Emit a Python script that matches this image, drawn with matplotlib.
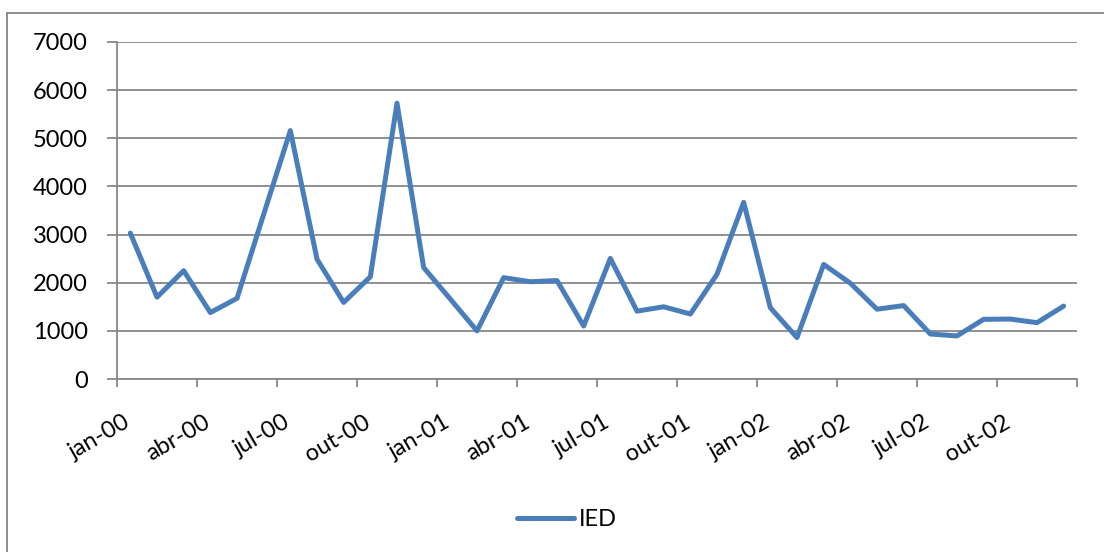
import matplotlib
matplotlib.use("Agg")
import matplotlib.pyplot as plt
from matplotlib.lines import Line2D
from matplotlib.transforms import ScaledTranslation

plt.rcParams['font.family'] = ['Lato', 'DejaVu Sans']

months = ["jan-00", "fev-00", "mar-00", "abr-00", "mai-00", "jun-00", "jul-00", "ago-00", "set-00",
          "out-00", "nov-00", "dez-00", "jan-01", "fev-01", "mar-01", "abr-01", "mai-01", "jun-01",
          "jul-01", "ago-01", "set-01", "out-01", "nov-01", "dez-01", "jan-02", "fev-02", "mar-02",
          "abr-02", "mai-02", "jun-02", "jul-02", "ago-02", "set-02", "out-02", "nov-02", "dez-02"]
ied = [3030, 1700, 2250, 1380, 1675, 3420, 5160, 2490, 1590, 2125, 5730, 2315,
       1660, 1000, 2105, 2020, 2045, 1100, 2505, 1410, 1500, 1350, 2175, 3670,
       1480, 860, 2380, 1990, 1450, 1525, 935, 895, 1240, 1245, 1170, 1515]
tick_labels = ["jan-00", "abr-00", "jul-00", "out-00", "jan-01", "abr-01", "jul-01",
               "out-01", "jan-02", "abr-02", "jul-02", "out-02", ""]
yticks = [0, 1000, 2000, 3000, 4000, 5000, 6000, 7000]

fig = plt.figure(figsize=(11.04, 5.52), dpi=100)
ax = fig.add_axes([117/1104, 1-379/552, (1077-117)/1104, (379-42)/552])

x = [i + 0.5 for i in range(len(ied))]
line, = ax.plot(x, ied, color='#4A7EBB', lw=3.6, solid_joinstyle='round', solid_capstyle='round', label='IED')

ax.set_xlim(0, 36)
ax.set_ylim(0, 7000)
ax.set_yticks(yticks)
ax.set_yticklabels([str(v) for v in yticks])
ax.set_xticks(list(range(0, 37, 3)))
ax.set_xticklabels(tick_labels, rotation=30, ha='right', va='top', rotation_mode='anchor')

ax.grid(axis='y', color='#878787', lw=1.3)
ax.set_axisbelow(True)
for s in ['top', 'right']:
    ax.spines[s].set_visible(False)
for s in ['left', 'bottom']:
    ax.spines[s].set_color('#878787')
    ax.spines[s].set_linewidth(1.3)

ax.tick_params(axis='y', length=7, width=1.3, color='#878787', pad=14, labelsize=17)
ax.tick_params(axis='x', length=5.5, width=1.3, color='#878787', pad=18, labelsize=17)

offset = ScaledTranslation(6/100, 0, fig.dpi_scale_trans)
for lbl in ax.get_xticklabels():
    lbl.set_transform(lbl.get_transform() + offset)

# Chart area border (top and left visible)
fig.add_artist(Line2D([7/1104, 7/1104], [0, 1-13/552], transform=fig.transFigure, color='#878787', lw=1.3))
fig.add_artist(Line2D([7/1104, 1], [1-13/552, 1-13/552], transform=fig.transFigure, color='#878787', lw=1.3))

fig.legend(handles=[line], labels=['IED'], loc='center', bbox_to_anchor=(567/1104, 1-520/552),
           frameon=False, fontsize=17, handlelength=2.4, handletextpad=0.2)

fig.savefig('out.png', dpi=100)
